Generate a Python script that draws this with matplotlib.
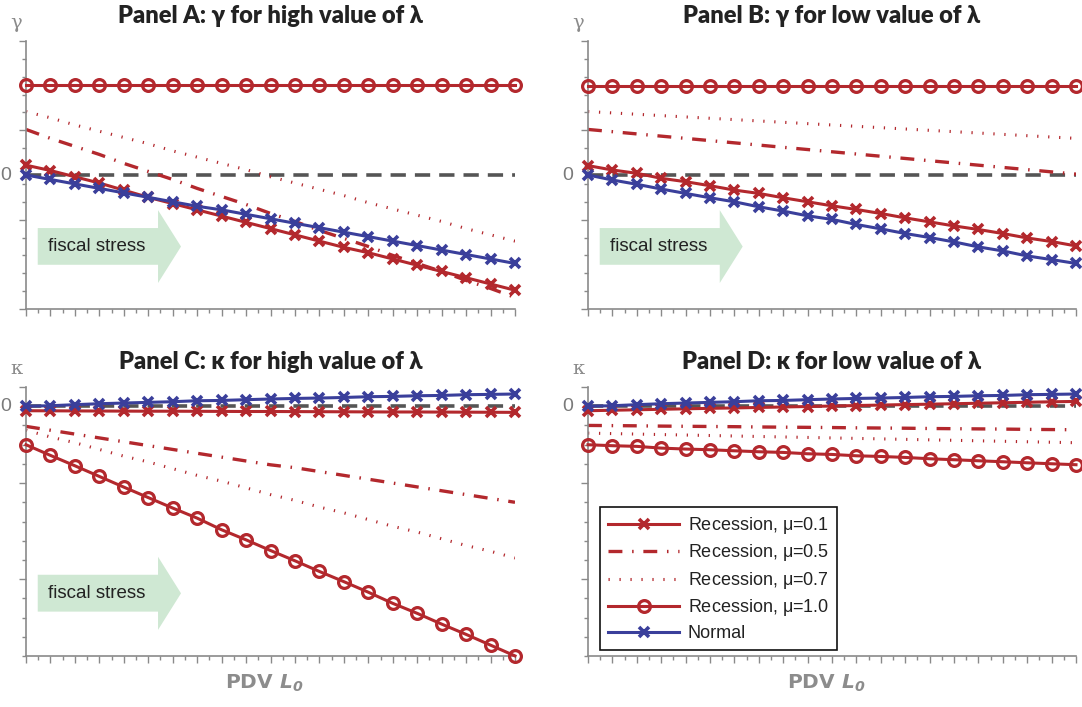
import matplotlib
matplotlib.use('Agg')

import matplotlib.pyplot as plt
from matplotlib.patches import Polygon
import numpy as np

plt.rcParams['font.family'] = ['Liberation Sans', 'DejaVu Sans']
plt.rcParams['lines.scale_dashes'] = False
plt.rcParams['mathtext.fontset'] = 'custom'
plt.rcParams['mathtext.rm'] = 'Liberation Sans'
plt.rcParams['mathtext.it'] = 'Liberation Sans:italic'
plt.rcParams['mathtext.bf'] = 'DejaVu Sans:bold'
plt.rcParams['mathtext.bfit'] = 'DejaVu Sans:italic:bold'

# grid of PDV L0 values (no numeric labels on the axis)
x = list(range(21))

# ---- Panel A: gamma, high lambda ----
gA_rec01 = [0.11, 0.05, -0.02, -0.09, -0.17, -0.25, -0.32, -0.39, -0.46, -0.53, -0.60,
            -0.67, -0.74, -0.81, -0.87, -0.94, -1.01, -1.08, -1.15, -1.22, -1.29]
gA_rec05 = [0.51, 0.41, 0.32, 0.23, 0.13, 0.04, -0.05, -0.15, -0.24, -0.33, -0.43,
            -0.52, -0.62, -0.71, -0.80, -0.90, -0.99, -1.08, -1.18, -1.27, -1.37]
gA_rec07 = [0.71, 0.64, 0.56, 0.49, 0.42, 0.35, 0.27, 0.20, 0.13, 0.06, -0.02,
            -0.09, -0.16, -0.23, -0.31, -0.38, -0.45, -0.52, -0.60, -0.67, -0.74]
gA_rec10 = [1.01, 1.01, 1.01, 1.01, 1.01, 1.01, 1.01, 1.01, 1.01, 1.01, 1.01,
            1.01, 1.01, 1.01, 1.01, 1.01, 1.01, 1.01, 1.01, 1.01, 1.01]
gA_norm = [0.0, -0.05, -0.10, -0.15, -0.20, -0.25, -0.30, -0.35, -0.39, -0.44, -0.49,
           -0.54, -0.59, -0.64, -0.69, -0.74, -0.79, -0.84, -0.89, -0.94, -0.99]

# ---- Panel B: gamma, low lambda ----
gB_rec01 = [0.105, 0.056, 0.019, -0.037, -0.075, -0.12, -0.169, -0.206, -0.255, -0.30, -0.345,
            -0.386, -0.431, -0.48, -0.525, -0.57, -0.61, -0.655, -0.705, -0.745, -0.794]
gB_rec05 = [0.51, 0.485, 0.46, 0.435, 0.41, 0.385, 0.36, 0.335, 0.31, 0.285, 0.26,
            0.235, 0.21, 0.185, 0.16, 0.135, 0.11, 0.085, 0.06, 0.035, 0.01]
gB_rec07 = [0.71, 0.695, 0.68, 0.665, 0.65, 0.635, 0.62, 0.605, 0.59, 0.575, 0.56,
            0.545, 0.53, 0.515, 0.50, 0.485, 0.47, 0.455, 0.44, 0.425, 0.41]
gB_rec10 = [1.0, 1.0, 1.0, 1.0, 1.0, 1.0, 1.0, 1.0, 1.0, 1.0, 1.0,
            1.0, 1.0, 1.0, 1.0, 1.0, 1.0, 1.0, 1.0, 1.0, 1.0]
gB_norm = [0.0, -0.056, -0.104, -0.157, -0.206, -0.255, -0.30, -0.356, -0.404, -0.457, -0.497,
           -0.554, -0.603, -0.655, -0.70, -0.749, -0.805, -0.85, -0.906, -0.947, -0.99]

# ---- Panel C: kappa, high lambda ----
kC_rec01 = [-0.047, -0.048, -0.049, -0.050, -0.051, -0.052, -0.052, -0.053, -0.054, -0.055, -0.055,
            -0.056, -0.057, -0.058, -0.059, -0.060, -0.060, -0.061, -0.062, -0.063, -0.064]
kC_rec05 = [-0.21, -0.25, -0.29, -0.33, -0.37, -0.41, -0.45, -0.49, -0.53, -0.57, -0.61,
            -0.64, -0.68, -0.72, -0.76, -0.80, -0.84, -0.88, -0.92, -0.96, -1.00]
kC_rec07 = [-0.25, -0.32, -0.38, -0.45, -0.52, -0.58, -0.65, -0.72, -0.78, -0.85, -0.92,
            -0.98, -1.05, -1.11, -1.18, -1.25, -1.31, -1.38, -1.45, -1.51, -1.58]
kC_rec10 = [-0.401, -0.512, -0.620, -0.731, -0.842, -0.951, -1.060, -1.165, -1.286, -1.391, -1.502,
            -1.609, -1.720, -1.826, -1.936, -2.052, -2.156, -2.268, -2.375, -2.487, -2.599]
kC_norm = [0.0, 0.005, 0.016, 0.026, 0.033, 0.040, 0.047, 0.057, 0.060, 0.068, 0.075,
           0.081, 0.085, 0.091, 0.099, 0.102, 0.109, 0.112, 0.120, 0.123, 0.127]

# ---- Panel D: kappa, low lambda ----
kD_rec01 = [-0.047, -0.042, -0.037, -0.032, -0.027, -0.022, -0.018, -0.013, -0.008, -0.003, 0.002,
            0.007, 0.012, 0.017, 0.021, 0.026, 0.031, 0.036, 0.041, 0.046, 0.050]
kD_rec05 = [-0.20, -0.202, -0.204, -0.207, -0.209, -0.211, -0.213, -0.216, -0.218, -0.22, -0.222,
            -0.225, -0.227, -0.229, -0.232, -0.234, -0.236, -0.238, -0.241, -0.243, -0.245]
kD_rec07 = [-0.28, -0.285, -0.29, -0.295, -0.30, -0.305, -0.31, -0.315, -0.32, -0.325, -0.33,
            -0.335, -0.34, -0.345, -0.35, -0.355, -0.36, -0.365, -0.37, -0.375, -0.38]
kD_rec10 = [-0.401, -0.411, -0.418, -0.436, -0.446, -0.453, -0.464, -0.474, -0.481, -0.495, -0.502,
            -0.516, -0.523, -0.533, -0.547, -0.557, -0.568, -0.578, -0.589, -0.599, -0.609]
kD_norm = [0.0, 0.005, 0.016, 0.026, 0.033, 0.040, 0.047, 0.057, 0.060, 0.068, 0.075,
           0.081, 0.085, 0.091, 0.099, 0.102, 0.109, 0.112, 0.120, 0.123, 0.127]

RED = '#b3282d'
BLUE = '#3a3f9b'
AXGRAY = '#8a8a8a'
TXTGRAY = '#7a7a7a'
GREEN = '#cfe8d3'

W, H = 1082, 707
fig = plt.figure(figsize=(W / 100, H / 100), dpi=100)


def px_ax(left, top, right, bottom):
    return [left / W, 1 - bottom / H, (right - left) / W, (bottom - top) / H]


def fiscal_arrow(ax):
    pts = [(0.024, 0.165), (0.27, 0.165), (0.27, 0.097), (0.317, 0.233),
           (0.27, 0.369), (0.27, 0.302), (0.024, 0.302)]
    ax.add_patch(Polygon(pts, closed=True, transform=ax.transAxes,
                         facecolor=GREEN, edgecolor='none', zorder=0.5))
    ax.text(0.145, 0.233, 'fiscal stress', transform=ax.transAxes,
            ha='center', va='center', fontsize=13.5, color='#222222', zorder=0.6)


def draw_panel(ax, r01, r05, r07, r10, norm, ylim, major, title, ylab, xlab):
    ax.axhline(0, color='#555555', lw=2.6, dashes=(11, 6.5), zorder=1.5)
    ax.plot(x, r07, color=RED, lw=2.2, dashes=(0.9, 7.0), solid_capstyle='butt',
            dash_capstyle='butt', label='Recession, μ=$\\mathit{0.7}$', zorder=2)
    ax.plot(x, r05, color=RED, lw=2.4, dashes=(10, 7, 1.1, 7),
            dash_capstyle='butt', label='Recession, μ=$\\mathit{0.5}$', zorder=2)
    ax.plot(x, r10, color=RED, lw=2.2, marker='o', ms=8.5, mew=2.3,
            mfc='none', label='Recession, μ=$\\mathit{1.0}$', zorder=3, clip_on=False)
    ax.plot(x, r01, color=RED, lw=2.2, marker='x', ms=6.5, mew=2.6,
            label='Recession, μ=$\\mathit{0.1}$', zorder=3, clip_on=False)
    ax.plot(x, norm, color=BLUE, lw=2.2, marker='x', ms=6.5, mew=2.6,
            label='Normal', zorder=4, clip_on=False)

    ax.set_xlim(0, 20)
    ax.set_ylim(*ylim)
    ax.set_xticks(x)
    ax.set_xticks(np.arange(0.5, 20, 1.0), minor=True)
    ax.set_yticks(major)
    ax.set_yticks(np.arange(ylim[0], ylim[1] + 0.01, 0.2), minor=True)
    ax.set_xticklabels([])
    ax.set_yticklabels([])
    ax.tick_params(which='major', length=5, width=1, color=AXGRAY, direction='out')
    ax.tick_params(which='minor', length=3, width=1, color=AXGRAY, direction='out')
    for s in ['top', 'right']:
        ax.spines[s].set_visible(False)
    for s in ['left', 'bottom']:
        ax.spines[s].set_color(AXGRAY)
        ax.spines[s].set_linewidth(1.2)

    ax.set_title(title, fontsize=17, fontweight='heavy', color='#222222',
                 family=['Lato', 'DejaVu Sans'], pad=13)
    ax.text(-0.03, 0, '0', transform=ax.get_yaxis_transform(), ha='right',
            va='center', fontsize=14, color=TXTGRAY)
    ax.annotate(ylab, xy=(0, 1), xycoords='axes fraction', xytext=(-10, 18),
                textcoords='offset pixels', ha='center', va='center',
                fontsize=14, color='#8c8c8c', family='DejaVu Serif')
    if xlab:
        ax.annotate(r'PDV $\mathbfit{L}_{\mathbfit{0}}$', xy=(0.5, 0),
                    xycoords='axes fraction', xytext=(-6, -33),
                    textcoords='offset pixels', ha='center', va='baseline',
                    fontsize=14.5, fontweight='bold', color='#8c8c8c',
                    family='DejaVu Sans')


axA = fig.add_axes(px_ax(26, 41, 515, 309))
axB = fig.add_axes(px_ax(588, 41, 1076, 309))
axC = fig.add_axes(px_ax(26, 387, 515, 656))
axD = fig.add_axes(px_ax(588, 387, 1076, 656))

gmaj = [-1.5, -0.5, 0.5, 1.5]
kmaj = [0.2, -0.8, -1.8]
draw_panel(axA, gA_rec01, gA_rec05, gA_rec07, gA_rec10, gA_norm, (-1.5, 1.5), gmaj,
           'Panel A: γ for high value of λ', 'γ', False)
draw_panel(axB, gB_rec01, gB_rec05, gB_rec07, gB_rec10, gB_norm, (-1.5, 1.5), gmaj,
           'Panel B: γ for low value of λ', 'γ', False)
draw_panel(axC, kC_rec01, kC_rec05, kC_rec07, kC_rec10, kC_norm, (-2.6, 0.2), kmaj,
           'Panel C: κ for high value of λ', 'κ', True)
draw_panel(axD, kD_rec01, kD_rec05, kD_rec07, kD_rec10, kD_norm, (-2.6, 0.2), kmaj,
           'Panel D: κ for low value of λ', 'κ', True)

fiscal_arrow(axA)
fiscal_arrow(axB)
fiscal_arrow(axC)

handles, labels = axD.get_legend_handles_labels()
order = [3, 1, 0, 2, 4]
leg = axD.legend([handles[i] for i in order], [labels[i] for i in order],
                 loc='upper left', bbox_to_anchor=(0.025, 0.555), borderaxespad=0,
                 fontsize=13, handlelength=3.9, handletextpad=0.5, labelspacing=0.36,
                 borderpad=0.45, fancybox=False, framealpha=1, edgecolor='#111111')
leg.get_frame().set_linewidth(1.2)
for t in leg.get_texts():
    t.set_color('#222222')

fig.savefig('out.png', dpi=100)
